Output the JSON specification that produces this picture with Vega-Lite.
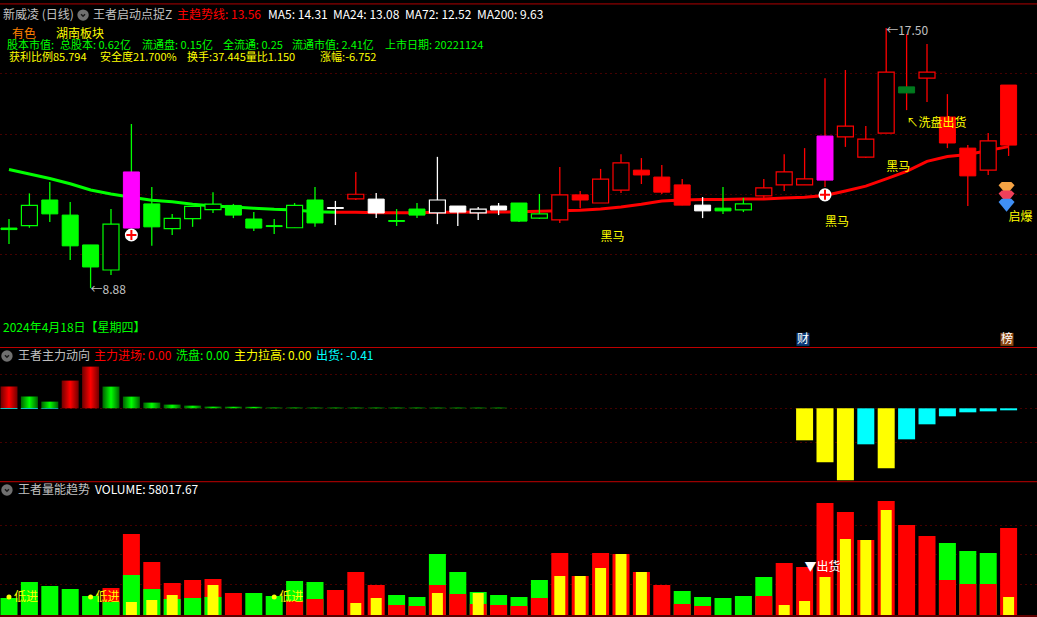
{
"$schema":"https://vega.github.io/schema/vega-lite/v6.json",
"background":"#000000","padding":0,"spacing":0,
"config":{"view":{"stroke":null},"text":{"font":"Noto Sans CJK SC","fontSize":12,"align":"left","baseline":"middle"}},
"datasets":{
"candles":[
{"i":0,"o":10.87,"h":11.17,"c":10.82,"l":10.34,"t":"绿"},
{"i":1,"o":10.95,"h":12.02,"c":11.62,"l":10.88,"t":"绿"},
{"i":2,"o":11.80,"h":12.40,"c":11.34,"l":11.07,"t":"绿"},
{"i":3,"o":11.30,"h":11.73,"c":10.28,"l":9.81,"t":"绿"},
{"i":4,"o":10.31,"h":10.31,"c":9.58,"l":8.88,"t":"绿"},
{"i":5,"o":9.48,"h":11.50,"c":11.00,"l":9.31,"t":"绿"},
{"i":6,"o":12.73,"h":14.32,"c":10.87,"l":10.87,"t":"紫","w":"绿"},
{"i":7,"o":11.67,"h":12.23,"c":10.91,"l":10.28,"t":"绿"},
{"i":8,"o":10.85,"h":11.34,"c":11.19,"l":10.64,"t":"绿"},
{"i":9,"o":11.18,"h":11.60,"c":11.59,"l":10.91,"t":"绿"},
{"i":10,"o":11.48,"h":12.06,"c":11.66,"l":11.37,"t":"绿"},
{"i":11,"o":11.62,"h":11.67,"c":11.30,"l":11.20,"t":"绿"},
{"i":12,"o":11.17,"h":11.40,"c":10.87,"l":10.77,"t":"绿"},
{"i":13,"o":10.95,"h":11.17,"c":10.92,"l":10.67,"t":"绿"},
{"i":14,"o":10.88,"h":11.70,"c":11.62,"l":10.88,"t":"绿"},
{"i":15,"o":11.80,"h":12.23,"c":11.04,"l":10.91,"t":"绿"},
{"i":16,"o":11.55,"h":11.77,"c":11.52,"l":10.97,"t":"白"},
{"i":17,"o":11.84,"h":12.73,"c":11.99,"l":11.80,"t":"红"},
{"i":18,"o":11.83,"h":12.03,"c":11.37,"l":11.20,"t":"白"},
{"i":19,"o":11.12,"h":11.50,"c":11.09,"l":10.94,"t":"绿"},
{"i":20,"o":11.50,"h":11.70,"c":11.30,"l":11.20,"t":"绿"},
{"i":21,"o":11.37,"h":13.23,"c":11.80,"l":11.00,"t":"白"},
{"i":22,"o":11.60,"h":11.60,"c":11.40,"l":10.94,"t":"白"},
{"i":23,"o":11.37,"h":11.57,"c":11.50,"l":11.14,"t":"白"},
{"i":24,"o":11.60,"h":11.70,"c":11.47,"l":11.30,"t":"白"},
{"i":25,"o":11.70,"h":11.70,"c":11.10,"l":11.07,"t":"绿"},
{"i":26,"o":11.20,"h":12.00,"c":11.34,"l":11.17,"t":"绿"},
{"i":27,"o":11.14,"h":12.89,"c":11.97,"l":11.04,"t":"红"},
{"i":28,"o":11.97,"h":12.10,"c":11.80,"l":11.53,"t":"红"},
{"i":29,"o":11.70,"h":12.83,"c":12.49,"l":11.70,"t":"红"},
{"i":30,"o":12.13,"h":13.32,"c":13.03,"l":12.03,"t":"红"},
{"i":31,"o":12.79,"h":13.19,"c":12.63,"l":12.33,"t":"红"},
{"i":32,"o":12.56,"h":12.96,"c":12.06,"l":12.00,"t":"红"},
{"i":33,"o":12.30,"h":12.50,"c":11.63,"l":11.63,"t":"红"},
{"i":34,"o":11.63,"h":11.90,"c":11.44,"l":11.20,"t":"白"},
{"i":35,"o":11.53,"h":12.23,"c":11.44,"l":11.34,"t":"绿"},
{"i":36,"o":11.47,"h":11.87,"c":11.67,"l":11.40,"t":"绿"},
{"i":37,"o":11.94,"h":12.50,"c":12.20,"l":11.83,"t":"红"},
{"i":38,"o":12.30,"h":13.32,"c":12.73,"l":12.10,"t":"红"},
{"i":39,"o":12.30,"h":13.52,"c":12.50,"l":12.30,"t":"红"},
{"i":40,"o":13.92,"h":15.84,"c":12.46,"l":12.23,"t":"紫","w":"红"},
{"i":41,"o":13.89,"h":16.11,"c":14.25,"l":13.56,"t":"红"},
{"i":42,"o":13.22,"h":14.25,"c":13.82,"l":13.19,"t":"红"},
{"i":43,"o":14.02,"h":17.50,"c":16.04,"l":14.02,"t":"红"},
{"i":44,"o":15.55,"h":17.30,"c":15.35,"l":14.78,"t":"暗绿","w":"红"},
{"i":45,"o":15.84,"h":16.97,"c":16.04,"l":15.05,"t":"红"},
{"i":46,"o":14.55,"h":15.31,"c":13.69,"l":13.52,"t":"红"},
{"i":47,"o":13.52,"h":13.62,"c":12.60,"l":11.60,"t":"红"},
{"i":48,"o":12.79,"h":14.02,"c":13.76,"l":12.63,"t":"红"},
{"i":49,"o":15.61,"h":15.61,"c":13.62,"l":13.26,"t":"红"}
],
"ma":[
{"i":0,"p":12.81,"t":"绿"},{"i":1,"p":12.66,"t":"绿"},{"i":2,"p":12.51,"t":"绿"},{"i":3,"p":12.34,"t":"绿"},{"i":4,"p":12.13,"t":"绿"},{"i":5,"p":12.00,"t":"绿"},{"i":6,"p":11.89,"t":"绿"},{"i":7,"p":11.79,"t":"绿"},{"i":8,"p":11.74,"t":"绿"},{"i":9,"p":11.66,"t":"绿"},{"i":10,"p":11.60,"t":"绿"},{"i":11,"p":11.57,"t":"绿"},{"i":12,"p":11.53,"t":"绿"},{"i":13,"p":11.49,"t":"绿"},{"i":14,"p":11.47,"t":"绿"},{"i":15,"p":11.41,"t":"绿"},{"i":16,"p":11.39,"t":"绿"},
{"i":16,"p":11.39,"t":"红"},{"i":17,"p":11.39,"t":"红"},{"i":18,"p":11.38,"t":"红"},{"i":19,"p":11.38,"t":"红"},{"i":20,"p":11.38,"t":"红"},{"i":21,"p":11.39,"t":"红"},{"i":22,"p":11.39,"t":"红"},{"i":23,"p":11.40,"t":"红"},{"i":24,"p":11.40,"t":"红"},{"i":25,"p":11.41,"t":"红"},{"i":26,"p":11.43,"t":"红"},{"i":27,"p":11.44,"t":"红"},{"i":28,"p":11.46,"t":"红"},{"i":29,"p":11.50,"t":"红"},{"i":30,"p":11.57,"t":"红"},{"i":31,"p":11.66,"t":"红"},{"i":32,"p":11.77,"t":"红"},{"i":33,"p":11.80,"t":"红"},{"i":34,"p":11.82,"t":"红"},{"i":35,"p":11.82,"t":"红"},{"i":36,"p":11.83,"t":"红"},{"i":37,"p":11.83,"t":"红"},{"i":38,"p":11.87,"t":"红"},{"i":39,"p":11.89,"t":"红"},{"i":40,"p":11.95,"t":"红"},{"i":41,"p":12.10,"t":"红"},{"i":42,"p":12.26,"t":"红"},{"i":43,"p":12.50,"t":"红"},{"i":44,"p":12.75,"t":"红"},{"i":45,"p":13.08,"t":"红"},{"i":46,"p":13.24,"t":"红"},{"i":47,"p":13.31,"t":"红"},{"i":48,"p":13.44,"t":"红"},{"i":49,"p":13.57,"t":"红"}
],
"notes1":[
{"i":-0.294,"p":17.93,"t":"灰","s":"新威凌 (日线)"},
{"i":4.118,"p":17.93,"t":"灰","s":"王者启动点捉Z"},
{"i":8.235,"p":17.93,"t":"红","s":"主趋势线: 13.56"},
{"i":12.696,"p":17.93,"t":"白","s":"MA5: 14.31"},
{"i":15.882,"p":17.93,"t":"白","s":"MA24: 13.08"},
{"i":19.412,"p":17.93,"t":"白","s":"MA72: 12.52"},
{"i":22.941,"p":17.93,"t":"白","s":"MA200: 9.63"},
{"i":0.147,"p":17.30,"t":"橙","s":"有色"},
{"i":2.304,"p":17.30,"t":"黄","s":"湖南板块"},
{"i":-0.294,"p":7.56,"t":"绿","s":"2024年4月18日【星期四】"},
{"i":4,"p":8.82,"t":"灰","s":"←8.88"},
{"i":43,"p":17.40,"t":"灰","s":"←17.50"},
{"i":29,"p":10.57,"t":"黄","s":"黑马"},
{"i":40,"p":11.07,"t":"黄","s":"黑马"},
{"i":43,"p":12.89,"t":"黄","s":"黑马"},
{"i":44,"p":14.35,"t":"黄","s":"↖洗盘出货"},
{"i":49,"p":11.24,"t":"黄","s":"启爆"}
],
"notes1b":[
{"i":-0.098,"p":16.92,"t":"绿","s":"股本市值:"},
{"i":2.5,"p":16.92,"t":"绿","s":"总股本: 0.62亿"},
{"i":6.52,"p":16.92,"t":"绿","s":"流通盘: 0.15亿"},
{"i":10.49,"p":16.92,"t":"绿","s":"全流通: 0.25"},
{"i":13.87,"p":16.92,"t":"绿","s":"流通市值: 2.41亿"},
{"i":18.43,"p":16.92,"t":"绿","s":"上市日期: 20221124"},
{"i":0,"p":16.52,"t":"黄","s":"获利比例85.794"},
{"i":4.46,"p":16.52,"t":"黄","s":"安全度21.700%"},
{"i":8.73,"p":16.52,"t":"黄","s":"换手:37.445量比1.150"},
{"i":15.25,"p":16.52,"t":"黄","s":"涨幅:-6.752"}
],
"signals":[{"i":6,"p":10.64},{"i":40,"p":11.97}],
"gems":[{"i":48.9,"p":12.20,"t":"金"},{"i":48.9,"p":11.92,"t":"玫"},{"i":48.9,"p":11.64,"t":"蓝"}],
"badges":[{"i":38.92,"p":7.18,"s":"财","t":"深蓝"},{"i":48.92,"p":7.18,"s":"榜","t":"棕"}],
"flow":[
{"i":0,"v":4.45,"k":"红"},{"i":1,"v":2.40,"k":"绿"},{"i":2,"v":1.37,"k":"绿"},{"i":3,"v":5.68,"k":"红"},{"i":4,"v":8.55,"k":"红"},{"i":5,"v":4.45,"k":"绿"},{"i":6,"v":2.40,"k":"绿"},{"i":7,"v":1.17,"k":"绿"},{"i":8,"v":0.76,"k":"绿"},{"i":9,"v":0.55,"k":"绿"},{"i":10,"v":0.35,"k":"绿"},{"i":11,"v":0.33,"k":"绿"},{"i":12,"v":0.31,"k":"绿"},{"i":13,"v":0.16,"k":"绿"},{"i":14,"v":0.16,"k":"绿"},{"i":15,"v":0.15,"k":"绿"},{"i":16,"v":0.15,"k":"绿"},{"i":17,"v":0.15,"k":"绿"},{"i":18,"v":0.15,"k":"绿"},{"i":19,"v":0.15,"k":"绿"},{"i":20,"v":0.15,"k":"绿"},{"i":21,"v":0.14,"k":"绿"},{"i":22,"v":0.14,"k":"绿"},{"i":23,"v":0.14,"k":"绿"},{"i":24,"v":0.14,"k":"绿"},
{"i":0,"v":-0.12,"k":"青"},{"i":1,"v":-0.12,"k":"青"},{"i":2,"v":-0.12,"k":"青"},
{"i":39,"v":-6.56,"k":"黄"},{"i":40,"v":-11.07,"k":"黄"},{"i":41,"v":-14.76,"k":"黄"},{"i":42,"v":-7.38,"k":"青"},{"i":43,"v":-12.30,"k":"黄"},{"i":44,"v":-6.36,"k":"青"},{"i":45,"v":-3.28,"k":"青"},{"i":46,"v":-1.64,"k":"青"},{"i":47,"v":-0.82,"k":"青"},{"i":48,"v":-0.62,"k":"青"},{"i":49,"v":-0.41,"k":"青"}
],
"notes2":[
{"i":0.441,"p":10.72,"t":"灰","s":"王者主力动向"},
{"i":4.167,"p":10.72,"t":"红","s":"主力进场: 0.00"},
{"i":8.186,"p":10.72,"t":"绿","s":"洗盘: 0.00"},
{"i":11.03,"p":10.72,"t":"黄","s":"主力拉高: 0.00"},
{"i":15.05,"p":10.72,"t":"青","s":"出货: -0.41"}
],
"volume":[
{"i":0,"vol":11339,"part":0,"yel":0,"top":"绿","low":"红"},
{"i":1,"vol":22011,"part":0,"yel":0,"top":"绿","low":"红"},
{"i":2,"vol":19343,"part":0,"yel":0,"top":"绿","low":"红"},
{"i":3,"vol":17342,"part":0,"yel":0,"top":"绿","low":"红"},
{"i":4,"vol":12673,"part":0,"yel":0,"top":"绿","low":"红"},
{"i":5,"vol":18009,"part":8671,"yel":0,"top":"红","low":"绿"},
{"i":6,"vol":54027,"part":26680,"yel":8671,"top":"红","low":"绿"},
{"i":7,"vol":35351,"part":17342,"yel":10005,"top":"红","low":"绿"},
{"i":8,"vol":21344,"part":10672,"yel":13340,"top":"红","low":"绿"},
{"i":9,"vol":23345,"part":11339,"yel":0,"top":"红","low":"绿"},
{"i":10,"vol":24012,"part":12006,"yel":20010,"top":"红","low":"绿"},
{"i":11,"vol":14674,"part":0,"yel":0,"top":"红","low":"绿"},
{"i":12,"vol":14674,"part":0,"yel":0,"top":"绿","low":"红"},
{"i":13,"vol":12673,"part":0,"yel":0,"top":"绿","low":"红"},
{"i":14,"vol":22678,"part":9338,"yel":0,"top":"绿","low":"红"},
{"i":15,"vol":22011,"part":10672,"yel":0,"top":"绿","low":"红"},
{"i":16,"vol":16675,"part":0,"yel":0,"top":"红","low":"绿"},
{"i":17,"vol":28681,"part":0,"yel":8004,"top":"红","low":"绿"},
{"i":18,"vol":20010,"part":0,"yel":11339,"top":"红","low":"绿"},
{"i":19,"vol":13340,"part":6670,"yel":0,"top":"绿","low":"红"},
{"i":20,"vol":12006,"part":6003,"yel":0,"top":"绿","low":"红"},
{"i":21,"vol":40687,"part":20010,"yel":14674,"top":"绿","low":"红"},
{"i":22,"vol":28681,"part":14007,"yel":0,"top":"绿","low":"红"},
{"i":23,"vol":15341,"part":7337,"yel":14674,"top":"绿","low":"红"},
{"i":24,"vol":13340,"part":6670,"yel":0,"top":"绿","low":"红"},
{"i":25,"vol":12006,"part":6003,"yel":0,"top":"绿","low":"红"},
{"i":26,"vol":23345,"part":11339,"yel":0,"top":"绿","low":"红"},
{"i":27,"vol":41354,"part":0,"yel":26013,"top":"红","low":"绿"},
{"i":28,"vol":26013,"part":0,"yel":26013,"top":"红","low":"绿"},
{"i":29,"vol":41354,"part":0,"yel":31349,"top":"红","low":"绿"},
{"i":30,"vol":40687,"part":0,"yel":40687,"top":"红","low":"绿"},
{"i":31,"vol":28681,"part":0,"yel":28681,"top":"红","low":"绿"},
{"i":32,"vol":20010,"part":0,"yel":0,"top":"红","low":"绿"},
{"i":33,"vol":16008,"part":7337,"yel":0,"top":"绿","low":"红"},
{"i":34,"vol":12006,"part":6003,"yel":0,"top":"绿","low":"红"},
{"i":35,"vol":11339,"part":0,"yel":0,"top":"绿","low":"红"},
{"i":36,"vol":12673,"part":0,"yel":0,"top":"绿","low":"红"},
{"i":37,"vol":25346,"part":12673,"yel":0,"top":"绿","low":"红"},
{"i":38,"vol":34684,"part":0,"yel":6670,"top":"红","low":"绿"},
{"i":39,"vol":32016,"part":0,"yel":9338,"top":"红","low":"绿"},
{"i":40,"vol":74704,"part":0,"yel":25346,"top":"红","low":"绿"},
{"i":41,"vol":68701,"part":0,"yel":50692,"top":"红","low":"绿"},
{"i":42,"vol":50025,"part":0,"yel":50025,"top":"红","low":"绿"},
{"i":43,"vol":76038,"part":0,"yel":70035,"top":"红","low":"绿"},
{"i":44,"vol":60030,"part":0,"yel":0,"top":"红","low":"绿"},
{"i":45,"vol":52693,"part":0,"yel":0,"top":"红","low":"绿"},
{"i":46,"vol":48024,"part":23345,"yel":0,"top":"绿","low":"红"},
{"i":47,"vol":42688,"part":20677,"yel":0,"top":"绿","low":"红"},
{"i":48,"vol":41354,"part":20677,"yel":0,"top":"绿","low":"红"},
{"i":49,"vol":58017.67,"part":0,"yel":12006,"top":"红","low":"绿"}
],
"notes3":[
{"i":0.441,"p":83375,"t":"灰","s":"王者量能趋势"},
{"i":4.216,"p":83375,"t":"白","s":"VOLUME: 58017.67"},
{"i":39,"p":32016,"t":"白","s":"▼出货"}
],
"lowbuy":[{"i":0,"p":12006,"s":"低进"},{"i":4,"p":12006,"s":"低进"},{"i":13,"p":12006,"s":"低进"}]
},
"vconcat":[
{
"width":1037,"height":347,
"encoding":{"x":{"field":"i","type":"quantitative","scale":{"domain":[-0.441,50.392],"nice":false,"padding":0,"zero":false},"axis":null}},
"layer":[
{"data":{"name":"ma"},"mark":{"type":"line","strokeWidth":3,"interpolate":"linear"},
"encoding":{"y":{"field":"p","type":"quantitative","scale":{"domain":[6.927,18.43],"zero":false,"nice":false},"axis":{"values":[10,12,14,16],"grid":true,"gridColor":"#8a0000","gridDash":[1,4],"gridWidth":1,"labels":false,"ticks":false,"domain":false,"title":null}},
"color":{"field":"t","type":"nominal","legend":null,"scale":{"domain":["绿","红","白","紫","暗绿","灰","黄","青","橙","金","玫","蓝"],"range":["#00ff00","#ff0000","#ffffff","#ff00ff","#007a1e","#c0c0c0","#ffff00","#00ffff","#ff8000","#f5a344","#f0405a","#3f8ff5"]}}}},
{"data":{"name":"candles"},"transform":[{"calculate":"datum.w||datum.t","as":"w2"}],"mark":{"type":"rule","strokeWidth":1.3},
"encoding":{"y":{"field":"h","type":"quantitative"},"y2":{"field":"l"},
"stroke":{"field":"w2","type":"nominal","legend":null,"scale":{"domain":["绿","红","白","紫","暗绿"],"range":["#00ff00","#ff0000","#ffffff","#ff00ff","#007a1e"]}}}},
{"data":{"name":"candles"},"transform":[{"filter":"datum.c>datum.o"}],"mark":{"type":"bar","orient":"vertical","size":16,"fill":"#000000","strokeWidth":1.2},
"encoding":{"y":{"field":"o","type":"quantitative"},"y2":{"field":"c"},
"stroke":{"field":"t","type":"nominal","legend":null}}},
{"data":{"name":"candles"},"transform":[{"filter":"datum.c<=datum.o"}],"mark":{"type":"bar","orient":"vertical","size":16,"strokeWidth":1},
"encoding":{"y":{"field":"o","type":"quantitative"},"y2":{"field":"c"},
"stroke":{"field":"t","type":"nominal","legend":null},
"fill":{"field":"t","type":"nominal","legend":null,"scale":{"domain":["绿","红","白","紫","暗绿","深蓝","棕"],"range":["#00ff00","#ff0000","#ffffff","#ff00ff","#007a1e","#0a3a78","#8a4510"]}}}},
{"data":{"name":"signals"},"mark":{"type":"point","filled":true,"size":170,"fill":"#ffffff","opacity":1},
"encoding":{"y":{"field":"p","type":"quantitative"}}},
{"data":{"name":"signals"},"mark":{"type":"point","shape":"M-1,-0.2L-0.2,-0.2L-0.2,-1L0.2,-1L0.2,-0.2L1,-0.2L1,0.2L0.2,0.2L0.2,1L-0.2,1L-0.2,0.2L-1,0.2Z","filled":true,"size":100,"fill":"#ff0000","opacity":1},
"encoding":{"y":{"field":"p","type":"quantitative"}}},
{"data":{"name":"gems"},"mark":{"type":"point","filled":true,"opacity":1,"size":256,"shape":"M-1,-0.35L-0.6,-0.75L0.6,-0.75L1,-0.35L0,0.85Z"},
"encoding":{"y":{"field":"p","type":"quantitative"},"color":{"field":"t","type":"nominal","legend":null}}},
{"data":{"name":"badges"},"mark":{"type":"point","shape":"square","filled":true,"opacity":1,"size":169},
"encoding":{"y":{"field":"p","type":"quantitative"},
"fill":{"field":"t","type":"nominal","legend":null}}},
{"data":{"name":"badges"},"mark":{"type":"text","align":"center","color":"#ffffff"},
"encoding":{"y":{"field":"p","type":"quantitative"},"text":{"field":"s"}}},
{"data":{"values":[{"i":3.63,"p":17.93}]},"mark":{"type":"point","filled":true,"size":130,"fill":"#707070","opacity":1},
"encoding":{"y":{"field":"p","type":"quantitative"}}},
{"data":{"values":[{"i":3.63,"p":17.93}]},"mark":{"type":"point","shape":"M-0.6,-0.25L0,0.35L0.6,-0.25","filled":false,"size":44,"stroke":"#1a1a1a","strokeWidth":1.5,"opacity":1},
"encoding":{"y":{"field":"p","type":"quantitative"}}},
{"data":{"name":"notes1"},"mark":{"type":"text"},
"encoding":{"y":{"field":"p","type":"quantitative"},"text":{"field":"s"},"color":{"field":"t","type":"nominal","legend":null}}},
{"data":{"name":"notes1b"},"mark":{"type":"text","fontSize":11},
"encoding":{"y":{"field":"p","type":"quantitative"},"text":{"field":"s"},"color":{"field":"t","type":"nominal","legend":null}}},
{"data":{"values":[{"i":-0.441,"p":18.30},{"i":50.392,"p":18.30}]},"mark":{"type":"line","color":"#b00000","strokeWidth":1,"clip":true},
"encoding":{"y":{"field":"p","type":"quantitative"}}}
]
},
{
"width":1037,"height":134,
"encoding":{"x":{"field":"i","type":"quantitative","scale":{"domain":[-0.441,50.392],"nice":false,"padding":0,"zero":false},"axis":null}},
"layer":[
{"data":{"name":"flow"},"transform":[{"filter":"datum.k==='红'"}],"mark":{"type":"bar","orient":"vertical","size":17,"color":{"x1":0,"y1":0,"x2":1,"y2":0,"gradient":"linear","stops":[{"offset":0,"color":"#700000"},{"offset":0.5,"color":"#ff0000"},{"offset":1,"color":"#700000"}]}},
"encoding":{"y":{"field":"v","type":"quantitative","stack":null,"scale":{"domain":[-14.9,12.57],"zero":false,"nice":false},"axis":{"values":[-7,0,7],"grid":true,"gridColor":"#8a0000","gridDash":[1,4],"gridWidth":1,"labels":false,"ticks":false,"domain":false,"title":null}}}},
{"data":{"name":"flow"},"transform":[{"filter":"datum.k==='绿'"}],"mark":{"type":"bar","orient":"vertical","size":17,"color":{"x1":0,"y1":0,"x2":1,"y2":0,"gradient":"linear","stops":[{"offset":0,"color":"#006000"},{"offset":0.5,"color":"#00ff00"},{"offset":1,"color":"#006000"}]}},
"encoding":{"y":{"field":"v","type":"quantitative","stack":null}}},
{"data":{"name":"flow"},"transform":[{"filter":"datum.k==='黄'"}],"mark":{"type":"bar","orient":"vertical","size":17,"color":"#ffff00"},
"encoding":{"y":{"field":"v","type":"quantitative","stack":null}}},
{"data":{"name":"flow"},"transform":[{"filter":"datum.k==='青'"}],"mark":{"type":"bar","orient":"vertical","size":17,"color":"#00ffff"},
"encoding":{"y":{"field":"v","type":"quantitative","stack":null}}},
{"data":{"values":[{"i":-0.1,"p":10.72}]},"mark":{"type":"point","filled":true,"size":130,"fill":"#707070","opacity":1},
"encoding":{"y":{"field":"p","type":"quantitative"}}},
{"data":{"values":[{"i":-0.1,"p":10.72}]},"mark":{"type":"point","shape":"M-0.6,-0.25L0,0.35L0.6,-0.25","filled":false,"size":44,"stroke":"#1a1a1a","strokeWidth":1.5,"opacity":1},
"encoding":{"y":{"field":"p","type":"quantitative"}}},
{"data":{"name":"notes2"},"mark":{"type":"text"},
"encoding":{"y":{"field":"p","type":"quantitative"},"text":{"field":"s"},
"color":{"field":"t","type":"nominal","legend":null,"scale":{"domain":["绿","红","白","灰","黄","青"],"range":["#00ff00","#ff0000","#ffffff","#c0c0c0","#ffff00","#00ffff"]}}}},
{"data":{"values":[{"i":-0.441,"p":12.47},{"i":50.392,"p":12.47}]},"mark":{"type":"line","color":"#c00000","strokeWidth":1,"clip":true},
"encoding":{"y":{"field":"p","type":"quantitative"}}}
]
},
{
"width":1037,"height":136,
"encoding":{"x":{"field":"i","type":"quantitative","scale":{"domain":[-0.441,50.392],"nice":false,"padding":0,"zero":false},"axis":null}},
"layer":[
{"data":{"name":"volume"},"mark":{"type":"bar","orient":"vertical","size":17},
"encoding":{"y":{"field":"vol","type":"quantitative","stack":null,"scale":{"domain":[-1334,89378],"zero":false,"nice":false},"axis":{"values":[20477,40487,59830],"grid":true,"gridColor":"#8a0000","gridDash":[1,4],"gridWidth":1,"labels":false,"ticks":false,"domain":false,"title":null}},
"fill":{"field":"top","type":"nominal","legend":null,"scale":{"domain":["绿","红"],"range":["#00ff00","#ff0000"]}}}},
{"data":{"name":"volume"},"transform":[{"filter":"datum.part>0"}],"mark":{"type":"bar","orient":"vertical","size":17},
"encoding":{"y":{"field":"part","type":"quantitative","stack":null},
"fill":{"field":"low","type":"nominal","legend":null}}},
{"data":{"name":"volume"},"transform":[{"filter":"datum.yel>0"}],"mark":{"type":"bar","orient":"vertical","size":11,"color":"#ffff00"},
"encoding":{"y":{"field":"yel","type":"quantitative","stack":null}}},
{"data":{"values":[{"i":-0.1,"p":83375}]},"mark":{"type":"point","filled":true,"size":130,"fill":"#707070","opacity":1},
"encoding":{"y":{"field":"p","type":"quantitative"}}},
{"data":{"values":[{"i":-0.1,"p":83375}]},"mark":{"type":"point","shape":"M-0.6,-0.25L0,0.35L0.6,-0.25","filled":false,"size":44,"stroke":"#1a1a1a","strokeWidth":1.5,"opacity":1},
"encoding":{"y":{"field":"p","type":"quantitative"}}},
{"data":{"name":"lowbuy"},"mark":{"type":"point","filled":true,"size":25,"fill":"#ffff00","opacity":1},
"encoding":{"y":{"field":"p","type":"quantitative"}}},
{"data":{"name":"lowbuy"},"mark":{"type":"text","dx":5,"color":"#ffff00"},
"encoding":{"y":{"field":"p","type":"quantitative"},"text":{"field":"s"}}},
{"data":{"name":"notes3"},"mark":{"type":"text"},
"encoding":{"y":{"field":"p","type":"quantitative"},"text":{"field":"s"},
"color":{"field":"t","type":"nominal","legend":null,"scale":{"domain":["白","灰"],"range":["#ffffff","#c0c0c0"]}}}},
{"data":{"values":[{"i":-0.441,"p":88900,"b":"上"},{"i":50.392,"p":88900,"b":"上"},{"i":-0.441,"p":-667,"b":"下"},{"i":50.392,"p":-667,"b":"下"}]},"mark":{"type":"line","color":"#c00000","strokeWidth":1,"clip":true},
"encoding":{"y":{"field":"p","type":"quantitative"},"detail":{"field":"b"}}}
]
}
]
}
